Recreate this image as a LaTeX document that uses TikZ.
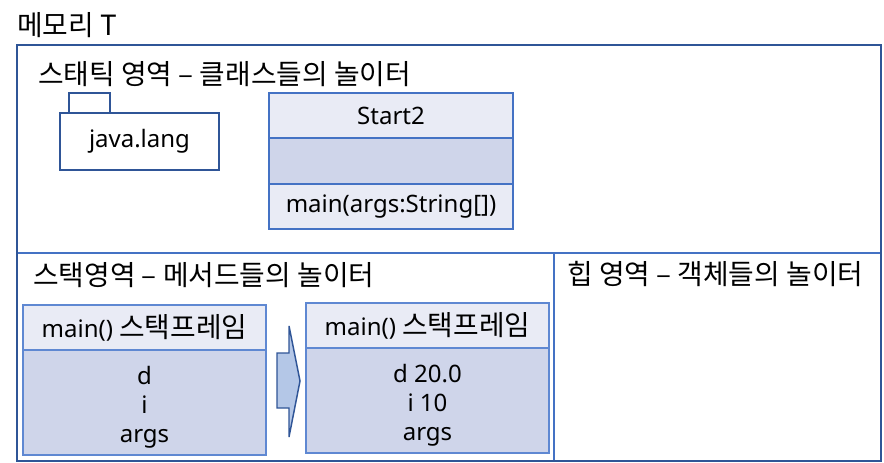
\documentclass[tikz,border=0pt]{standalone}
\usepackage{fontspec}
\setmainfont{Noto Sans}
\newfontfamily\kr[Scale=1.16]{Noto Sans CJK KR}
\usetikzlibrary{positioning,fit}

\definecolor{memblue}{HTML}{2F5597}
\definecolor{areablue}{HTML}{4472C4}
\definecolor{framedraw}{HTML}{5F88D2}
\definecolor{headfill}{HTML}{E9EBF5}
\definecolor{bodyfill}{HTML}{CFD5EA}
\definecolor{arrowfill}{HTML}{B4C7E7}

\tikzset{
  area/.style={draw=areablue, line width=2pt, inner sep=0pt},
  label text/.style={anchor=west, inner sep=0pt},
  classrow/.style={draw=areablue, line width=1.5pt, fill=headfill, outer sep=0pt,
    minimum width=183pt, minimum height=34pt, inner sep=0pt},
  pkgbox/.style={draw=memblue, line width=1.5pt, fill=white, outer sep=0pt, inner sep=0pt},
  framehead/.style={draw=framedraw, line width=1.5pt, fill=headfill, outer sep=0pt,
    minimum width=182.25pt, minimum height=33.75pt, inner sep=0pt},
  framebody/.style={framehead, fill=bodyfill, minimum height=78.75pt,
    align=center, font=\fontsize{18}{21.6}\selectfont}
}

\begin{document}
\begin{tikzpicture}[x=0.75pt, y=-0.75pt, font=\fontsize{18}{21.6}\selectfont]
\useasboundingbox (0,0) rectangle (884,463);

% areas
\node[area, fit={(17,253) (554,461)}] (stack) {};
\node[area, fit={(554,253) (881,461)}] (heap) {};
\node[draw=memblue, line width=1.5pt, inner sep=0pt, fit={(17,45) (881,461)}] (memory) {};

\node[label text] (memtitle) at (17,25) {\kr 메모리 T};
\node[label text] (statictitle) at (38,74) {\kr 스태틱 영역 – 클래스들의 놀이터};
\node[label text] (stacktitle) at (33,275) {\kr 스택영역 – 메서드들의 놀이터};
\node[label text] (heaptitle) at (567,274) {\kr 힙 영역 – 객체들의 놀이터};

% static area
\node[pkgbox, minimum width=119.25pt, minimum height=42.75pt] (lang) at (139.5,141.5) {java.lang};
\node[pkgbox, minimum width=30.75pt, minimum height=15pt, anchor=south west]
  (langtab) at ([xshift=6.75pt]lang.north west) {};

\node[classrow] (start2) at (391,115.7) {Start2};
\node[classrow, fill=bodyfill, below=0pt of start2] (start2attr) {};
\node[classrow, below=0pt of start2attr] (start2op) {main(args:String[])};

% stack frames
\node[framehead] (frameA) at (144.5,327.5) {main() {\kr 스택프레임}};
\node[framebody, below=0pt of frameA] (frameAvars) {\rule{0pt}{21pt}d\\i\\args};

\node[framehead] (frameB) at (427.5,325.5) {main() {\kr 스택프레임}};
\node[framebody, below=0pt of frameB] (frameBvars) {\rule{0pt}{21pt}d 20.0\\i 10\\args};

\draw[memblue, line width=1.1pt, fill=arrowfill, line join=miter]
  (277,353) -- (289,353) -- (289,326) -- (300,381) -- (289,437) -- (289,408) -- (277,408) -- cycle;
\end{tikzpicture}
\end{document}
